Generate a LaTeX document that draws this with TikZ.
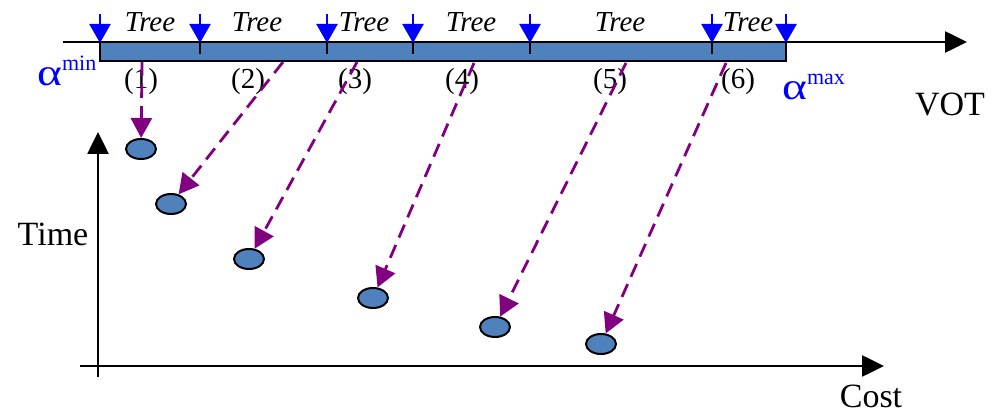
\documentclass[tikz,border=0pt]{standalone}
\usepackage{fontspec}
\setmainfont{Liberation Serif}
\usetikzlibrary{arrows.meta,shapes.geometric}
\definecolor{barblue}{RGB}{79,129,189}
\definecolor{arrpurple}{RGB}{128,0,128}
\tikzset{
  axis/.style={line width=2.6pt,-{Triangle[width=21pt,length=22pt]}},
  tickmark/.style={line width=2.4pt},
  bluearrow/.style={blue,line width=2.4pt,-{Triangle[width=21pt,length=19pt]}},
  sol/.style={ellipse,draw=black,line width=2pt,fill=barblue,minimum width=30pt,minimum height=20pt,inner sep=0pt},
  map/.style={arrpurple,line width=2.8pt,dash pattern=on 14pt off 8pt,-{Triangle[width=21pt,length=20pt]}},
  treelbl/.style={font=\fontsize{29}{30}\selectfont\itshape,anchor=base,inner sep=0pt},
  numlbl/.style={font=\fontsize{29}{30}\selectfont,anchor=base,inner sep=0pt},
  biglbl/.style={font=\fontsize{34}{36}\selectfont,anchor=base,inner sep=0pt},
  alphalbl/.style={font=\fontsize{38}{40}\selectfont,text=blue,anchor=base west,inner sep=0pt}
}
\begin{document}
\begin{tikzpicture}[x=1pt,y=-1pt]
\useasboundingbox (0,0) rectangle (996,414);
% top VOT axis
\coordinate (vstart) at (63,42);
\coordinate (vend) at (967,42);
\draw[axis] (vstart) -- (vend);
% bar
\draw[line width=2.4pt,fill=barblue] (100,42) rectangle (786,61);
% ticks
\foreach \x in {200,327,413,530,712}{
  \draw[tickmark] (\x,42) -- (\x,54);
}
% blue arrows
\foreach \x [count=\i] in {100,200,327,413,530,712,786}{
  \coordinate (u\i) at (\x,14);
  \coordinate (t\i) at (\x,43);
  \draw[bluearrow] (u\i) -- (t\i);
}
% Tree labels
\node[treelbl] (tr1) at (150,32) {Tree};
\node[treelbl] (tr2) at (257,32) {Tree};
\node[treelbl] (tr3) at (364,32) {Tree};
\node[treelbl] (tr4) at (471,32) {Tree};
\node[treelbl] (tr5) at (620,32) {Tree};
\node[treelbl] (tr6) at (748,32) {Tree};
% numbers
\node[numlbl] (n1) at (141,89) {(1)};
\node[numlbl] (n2) at (248,89) {(2)};
\node[numlbl] (n3) at (355,89) {(3)};
\node[numlbl] (n4) at (462,89) {(4)};
\node[numlbl] (n5) at (610,89) {(5)};
\node[numlbl] (n6) at (738,89) {(6)};
% alpha labels
\node[alphalbl] (amin) at (37,86) {\scalebox{1.25}[1]{α}\raisebox{15pt}{\fontsize{22}{24}\selectfont min}};
\node[alphalbl] (amax) at (782,100) {\scalebox{1.25}[1]{α}\raisebox{15pt}{\fontsize{22}{24}\selectfont max}};
% axis labels
\node[biglbl] (vot) at (950,116) {VOT};
\node[biglbl] (time) at (53,245) {Time};
\node[biglbl] (cost) at (871,407) {Cost};
% lower axes
\coordinate (origin) at (98,377);
\coordinate (ytip) at (98,132);
\coordinate (xorig) at (80,366);
\coordinate (xtip) at (884,366);
\draw[axis] (origin) -- (ytip);
\draw[axis] (xorig) -- (xtip);
% solutions
\node[sol] (e1) at (141,149) {};
\node[sol] (e2) at (171,204) {};
\node[sol] (e3) at (249,259) {};
\node[sol] (e4) at (373,298) {};
\node[sol] (e5) at (495,327) {};
\node[sol] (e6) at (601,344) {};
% mapping arrows
\coordinate (s1) at (142,62);
\coordinate (s2) at (283,62);
\coordinate (s3) at (357,62);
\coordinate (s4) at (474,63);
\coordinate (s5) at (626,63);
\coordinate (s6) at (726,63);
\draw[map] (s1) -- (e1);
\draw[map] (s2) -- (e2);
\draw[map] (s3) -- (e3);
\draw[map] (s4) -- (e4);
\draw[map] (s5) -- (e5);
\draw[map] (s6) -- (e6);
\end{tikzpicture}
\end{document}
